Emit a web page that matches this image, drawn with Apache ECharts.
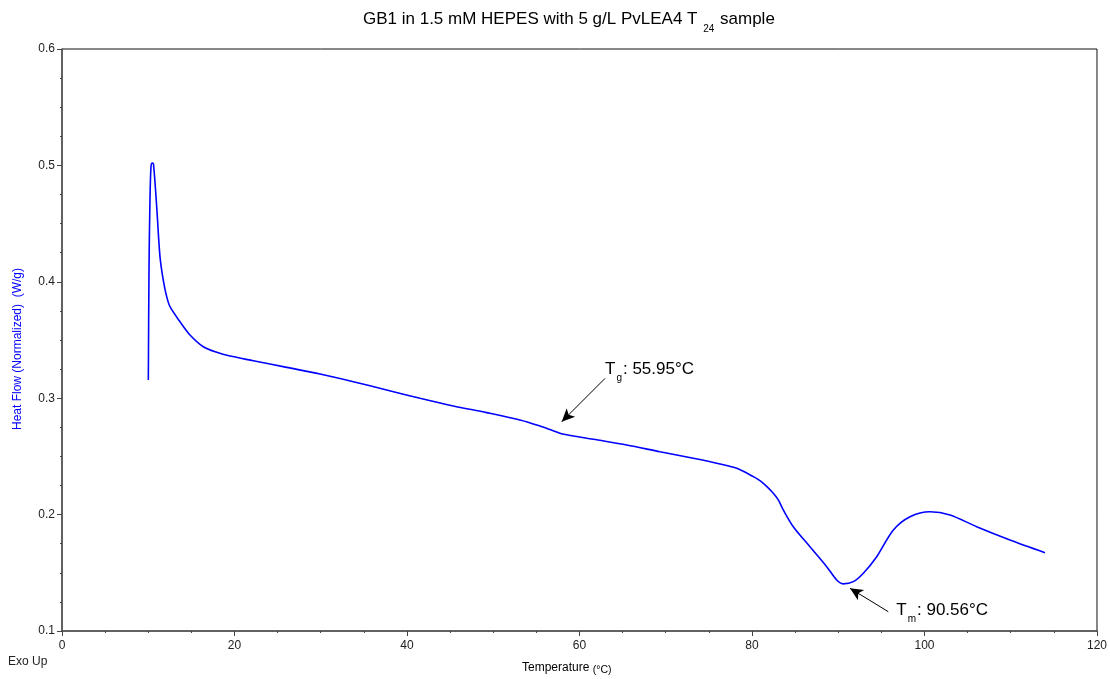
<!DOCTYPE html>
<html>
<head>
<meta charset="utf-8">
<title>GB1 DSC thermogram</title>
<script src="https://cdn.jsdelivr.net/npm/echarts@6/dist/echarts.min.js"></script>
<style>
  html, body { margin: 0; padding: 0; background: #fff; }
  #chart { width: 1110px; height: 679px; }
</style>
</head>
<body>
<div id="chart"></div>
<script>
// DSC trace: temperature (°C) and normalized heat flow (W/g)
var temperature = [
  10.01, 10.09, 10.20, 10.32, 10.47, 10.61, 10.98, 11.36, 11.74, 12.14,
  12.52, 13.68, 14.84, 16.38, 17.94, 19.48, 22.18, 26.05, 29.91, 33.78,
  37.64, 41.51, 45.37, 49.24, 53.10, 55.42, 56.96, 57.90, 61.60, 65.47,
  69.33, 73.20, 76.29, 78.23, 80.16, 80.96, 81.70, 82.47, 83.05, 83.63,
  84.79, 86.72, 88.66, 89.82, 90.56, 91.75, 92.91, 94.46, 96.39, 98.32,
  100.64, 102.96, 106.05, 109.91, 113.97
];
var heatFlow = [
  0.3156, 0.4130, 0.4700, 0.4990, 0.5020, 0.5010, 0.4645, 0.4216, 0.4015, 0.3872,
  0.3786, 0.3657, 0.3543, 0.3442, 0.3394, 0.3362, 0.3322, 0.3265, 0.3208, 0.3142,
  0.3071, 0.2999, 0.2933, 0.2876, 0.2813, 0.2761, 0.2721, 0.2695, 0.2647, 0.2598,
  0.2540, 0.2484, 0.2435, 0.2398, 0.2326, 0.2290, 0.2242, 0.2183, 0.2126, 0.2040,
  0.1896, 0.1724, 0.1553, 0.1438, 0.1405, 0.1424, 0.1496, 0.1638, 0.1868, 0.1982,
  0.2025, 0.1997, 0.1896, 0.1782, 0.1673
];

// Axis ranges and tick steps
var xTicks = { min: 0, max: 120, step: 20 };
var yTicks = { min: 0.1, max: 0.6, step: 0.1 };

// Annotated transitions: arrow tail -> arrow tip, with label
var tgArrow = { from: [62.96, 0.3170], to: [57.94, 0.2798], sub: 'g', value: '55.95°C' };
var tmArrow = { from: [95.80, 0.1166], to: [91.36, 0.1367], sub: 'm', value: '90.56°C' };

var points = temperature.map(function (t, i) { return [t, heatFlow[i]]; });

var FONT = 'Liberation Sans, Arial, sans-serif';

function subRich(size) {
  return {
    main: { fontSize: size, fontFamily: FONT, color: '#000', verticalAlign: 'top', lineHeight: size + 3 },
    sub: { fontSize: 10, fontFamily: FONT, color: '#000', verticalAlign: 'top', lineHeight: 10, padding: [Math.round(size * 0.75), 1, 0, 1] }
  };
}

var chart = echarts.init(document.getElementById('chart'), null, { renderer: 'canvas' });

chart.setOption({
  animation: false,
  backgroundColor: '#fff',
  grid: {
    left: 62, right: 13, top: 49, bottom: 48,
    show: true, borderColor: '#111', borderWidth: 1, backgroundColor: 'transparent'
  },
  xAxis: {
    type: 'value',
    min: xTicks.min, max: xTicks.max, interval: xTicks.step,
    axisLine: { show: true, onZero: false, lineStyle: { color: '#555', width: 1.5 } },
    axisTick: { show: true, inside: false, length: 5, lineStyle: { color: '#444' } },
    minorTick: { show: true, splitNumber: 4, length: 2, lineStyle: { color: '#444' } },
    splitLine: { show: false },
    axisLabel: { color: '#222', fontSize: 12, fontFamily: FONT, margin: 9 }
  },
  yAxis: {
    type: 'value',
    min: yTicks.min, max: yTicks.max, interval: yTicks.step,
    axisLine: { show: true, onZero: false, lineStyle: { color: '#555', width: 1.5 } },
    axisTick: { show: true, inside: false, length: 5, lineStyle: { color: '#444' } },
    minorTick: { show: true, splitNumber: 4, length: 2, lineStyle: { color: '#444' } },
    splitLine: { show: false },
    axisLabel: {
      color: '#222', fontSize: 12, fontFamily: FONT, margin: 7,
      formatter: function (v) { return v.toFixed(1); }
    }
  },
  graphic: [
    {
      type: 'text', left: 363, top: 11,
      style: {
        text: '{main|GB1 in 1.5 mM HEPES with 5 g/L PvLEA4 T }{sub|24}{main| sample}',
        rich: subRich(17)
      }
    },
    {
      type: 'text', x: 18, y: 349, rotation: Math.PI / 2,
      style: {
        text: 'Heat Flow (Normalized)  (W/g)', fill: '#0000ff',
        font: '12px ' + FONT, align: 'center', verticalAlign: 'middle'
      }
    },
    {
      type: 'text', x: 8, y: 662,
      style: { text: 'Exo Up', fill: '#222', font: '12px ' + FONT, verticalAlign: 'middle' }
    },
    {
      type: 'text', left: 522, top: 662,
      style: {
        text: '{a|Temperature }{b|(°C)}',
        rich: {
          a: { fontSize: 12, fontFamily: FONT, color: '#222', verticalAlign: 'top', lineHeight: 14 },
          b: { fontSize: 10.5, fontFamily: FONT, color: '#222', verticalAlign: 'top', lineHeight: 12, padding: [3, 0, 0, 0] }
        }
      }
    }
  ],
  series: [
    {
      type: 'line',
      data: points,
      showSymbol: false,
      smooth: 0.3,
      lineStyle: { color: '#0000ff', width: 1.6 },
      itemStyle: { color: '#0000ff' },
      silent: true,
      markLine: {
        silent: true,
        symbol: ['none', 'arrow'],
        symbolSize: [9, 13],
        label: { show: false },
        lineStyle: { color: '#000', width: 1, type: 'solid' },
        emphasis: { disabled: true },
        data: [
          [{ coord: tgArrow.from }, { coord: tgArrow.to }],
          [{ coord: tmArrow.from }, { coord: tmArrow.to }]
        ]
      },
      markPoint: {
        silent: true,
        symbol: 'circle',
        symbolSize: 0,
        data: [
          {
            coord: tgArrow.from,
            label: {
              show: true, position: 'right', distance: 0, offset: [0, -8],
              formatter: '{main|T}{sub|' + tgArrow.sub + '}{main|: ' + tgArrow.value + '}',
              rich: subRich(17)
            }
          },
          {
            coord: tmArrow.from,
            label: {
              show: true, position: 'right', distance: 0, offset: [8, 0],
              formatter: '{main|T}{sub|' + tmArrow.sub + '}{main|: ' + tmArrow.value + '}',
              rich: subRich(17)
            }
          }
        ]
      }
    }
  ]
});
</script>
</body>
</html>
